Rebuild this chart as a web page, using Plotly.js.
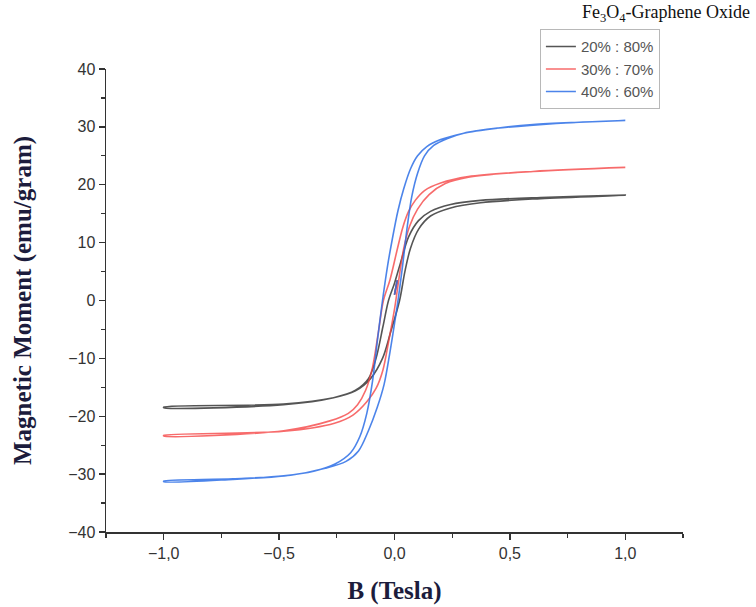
<!DOCTYPE html>
<html>
<head>
<meta charset="utf-8">
<script src="https://cdn.plot.ly/plotly-3.0.1.min.js"></script>
<style>html,body{margin:0;padding:0;background:#fff;}#chart{width:756px;height:607px;}</style>
</head>
<body>
<div id="chart"></div>
<script>
// Series names
var seriesNames = ['20% : 80%', '30% : 70%', '40% : 60%'];

// Initial magnetization stub (B in Tesla, M in emu/gram)
var bInit = [0.0, 0.012];
var mInit = [1.0, 3.5];

// 20% : 80% — descending branch (B from +1 to -1)
var bDownBlack = [1.0, 0.633, 0.373, 0.243, 0.156, 0.104, 0.061, 0.026, 0.0, -0.026, -0.05, -0.08, -0.113, -0.169, -0.264, -0.481, -1.0];
var mDownBlack = [18.2, 17.8, 17.3, 16.6, 15.4, 13.8, 11.0, 6.5, 3.0, 0.0, -4.5, -10.0, -13.5, -15.5, -16.8, -18.0, -18.5];
// 20% : 80% — ascending branch (B from -1 to +1)
var bUpBlack = [-1.0, -0.481, -0.264, -0.169, -0.104, -0.052, -0.017, 0.022, 0.045, 0.069, 0.104, 0.156, 0.243, 0.373, 0.633, 1.0];
var mUpBlack = [-18.4, -17.9, -16.8, -15.6, -13.5, -10.0, -5.5, 0.0, 5.0, 9.0, 12.3, 14.6, 16.0, 16.9, 17.6, 18.2];

// 30% : 70%
var bDownRed = [1.0, 0.6, 0.32, 0.2, 0.13, 0.09, 0.06, 0.035, 0.01, -0.02, -0.048, -0.07, -0.095, -0.125, -0.16, -0.2, -0.28, -0.48, -1.0];
var mDownRed = [23.0, 22.3, 21.4, 20.3, 19.0, 17.3, 15.3, 12.5, 8.5, 3.5, 0.0, -5.5, -11.5, -15.5, -18.0, -19.5, -20.8, -22.5, -23.4];
var bUpRed = [-1.0, -0.48, -0.26, -0.18, -0.12, -0.08, -0.05, -0.025, 0.0, 0.02, 0.04, 0.065, 0.1, 0.15, 0.22, 0.32, 0.6, 1.0];
var mUpRed = [-23.3, -22.6, -21.2, -19.8, -17.5, -15.2, -12.0, -7.0, -1.5, 4.0, 9.0, 12.8, 15.8, 18.3, 20.2, 21.3, 22.3, 23.0];

// 40% : 60%
var bDownBlue = [1.0, 0.8, 0.6, 0.4, 0.3, 0.2, 0.14, 0.1, 0.07, 0.04, 0.015, -0.01, -0.03, -0.052, -0.074, -0.095, -0.12, -0.15, -0.19, -0.26, -0.35, -0.48, -0.7, -1.0];
var mDownBlue = [31.1, 30.8, 30.3, 29.6, 28.9, 27.8, 26.6, 25.0, 22.8, 19.3, 15.5, 10.5, 6.0, 0.0, -6.9, -13.9, -19.5, -23.5, -26.3, -28.3, -29.5, -30.3, -30.9, -31.3];
var bUpBlue = [-1.0, -0.7, -0.45, -0.3, -0.21, -0.156, -0.113, -0.075, -0.045, -0.02, 0.0, 0.017, 0.035, 0.056, 0.075, 0.1, 0.13, 0.17, 0.23, 0.3, 0.45, 0.6, 0.8, 1.0];
var mUpBlue = [-31.2, -30.8, -30.2, -29.0, -27.8, -26.0, -22.5, -18.5, -14.5, -9.0, -4.0, 0.5, 6.0, 13.0, 18.0, 22.0, 25.0, 26.8, 28.0, 28.9, 29.8, 30.4, 30.8, 31.1];

// Tick labels
var xTickVals = [-1.0, -0.5, 0.0, 0.5, 1.0];
var xTickText = ['\u22121,0', '\u22120,5', '0,0', '0,5', '1,0'];
var yTickVals = [-40, -30, -20, -10, 0, 10, 20, 30, 40];
var yTickText = ['\u221240', '\u221230', '\u221220', '\u221210', '0', '10', '20', '30', '40'];

var colors = ['rgba(55,55,55,0.85)', 'rgba(245,70,70,0.8)', 'rgba(45,110,230,0.85)'];

function loop(bDown, mDown, bUp, mUp) {
  return {
    x: bInit.concat([null], bDown, bUp),
    y: mInit.concat([null], mDown, mUp)
  };
}

var loops = [
  loop(bDownBlack, mDownBlack, bUpBlack, mUpBlack),
  loop(bDownRed, mDownRed, bUpRed, mUpRed),
  loop(bDownBlue, mDownBlue, bUpBlue, mUpBlue)
];

var traces = loops.map(function (d, i) {
  return {
    x: d.x, y: d.y,
    type: 'scatter',
    mode: 'lines',
    name: seriesNames[i],
    connectgaps: false,
    line: {color: colors[i], width: 1.6, shape: 'spline', smoothing: 0.9}
  };
});

var tickFont = {family: 'Liberation Sans, Arial, sans-serif', size: 16, color: '#333'};
var titleFont = {family: 'Liberation Serif, Times New Roman, serif', size: 25, color: '#1c1c3c', weight: 'bold'};

var layout = {
  width: 756, height: 607,
  margin: {l: 106, r: 73, t: 69, b: 75},
  paper_bgcolor: '#fff', plot_bgcolor: '#fff',
  separators: ',.',
  showlegend: true,
  legend: {
    x: 0.752, y: 1.086, xanchor: 'left', yanchor: 'top',
    bordercolor: '#b8b8b8', borderwidth: 1, bgcolor: 'rgba(255,255,255,0)',
    font: {family: 'Liberation Sans, Arial, sans-serif', size: 15, color: '#555'},
    tracegroupgap: 0
  },
  xaxis: {
    range: [-1.25, 1.25],
    tickvals: xTickVals, ticktext: xTickText,
    ticks: 'outside', ticklen: 6, tickwidth: 1.3, tickcolor: '#333',
    minor: {dtick: 0.25, ticks: 'outside', ticklen: 4, tickwidth: 1.2, tickcolor: '#333', showgrid: false},
    showline: true, linecolor: '#333', linewidth: 1.5,
    showgrid: false, zeroline: false,
    tickfont: tickFont,
    title: {text: 'B (Tesla)', font: titleFont, standoff: 21}
  },
  yaxis: {
    range: [-40, 40],
    tickvals: yTickVals, ticktext: yTickText,
    ticks: 'outside', ticklen: 6, tickwidth: 1.3, tickcolor: '#333',
    minor: {dtick: 5, ticks: 'outside', ticklen: 4, tickwidth: 1.2, tickcolor: '#333', showgrid: false},
    showline: true, linecolor: '#333', linewidth: 1.5,
    showgrid: false, zeroline: false,
    tickfont: tickFont,
    title: {text: 'Magnetic Moment (emu/gram)', font: titleFont, standoff: 29}
  },
  annotations: [{
    text: 'Fe<sub>3</sub>O<sub>4</sub>-Graphene Oxide',
    xref: 'paper', yref: 'paper', x: 1.12, y: 1.12,
    xanchor: 'right', yanchor: 'middle', showarrow: false,
    font: {family: 'Liberation Serif, Times New Roman, serif', size: 18, color: '#111'}
  }]
};

Plotly.newPlot('chart', traces, layout, {displayModeBar: false, staticPlot: true});
</script>
</body>
</html>
